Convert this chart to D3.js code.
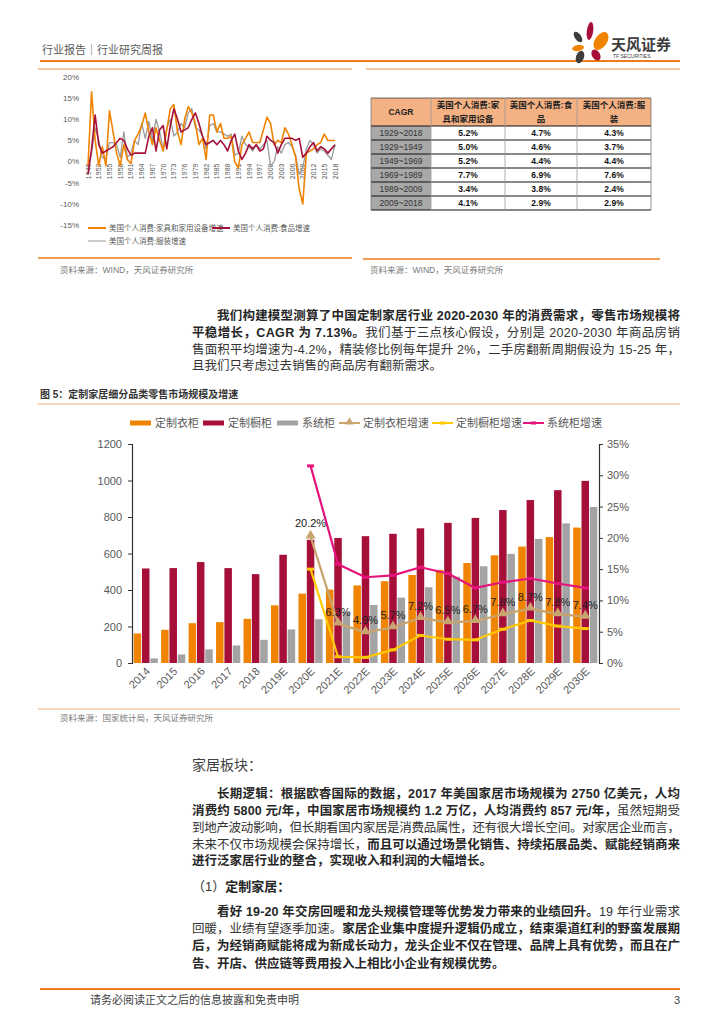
<!DOCTYPE html>
<html><head><meta charset="utf-8">
<script src="https://cdn.jsdelivr.net/npm/d3@7"></script>
<style>body{margin:0;background:#fff}svg{display:block}</style>
</head><body><svg id="page" width="724" height="1024"></svg>
<script>
// ---------- DATA ----------
const usYears = d3.range(1949, 2019);
const usFurniture = [-1,16.5,5,-1,3.5,-1,12,7,2,-1, 4,0.5,-0.5,5,6.5,8.5,11.5,7,4,8, 5,2.5,7.5,12.5,13.5,7,4,10,13,11.5, 9,4,5.5,0.5,11,11,7,9,5.5,5.5, 6,0,-1.5,4,5.5,7,4.5,4.5,4.5,7.5, 10.5,9,4,5,4.5,8,6.5,4,1,-6.5, -10,2,2.5,3,4,4.5,6.5,5,5,5];
const usFood = [-3,3,11,4,2,2.5,3,3.5,4.5,5.5, 5,3,1.5,2,2,2,2,6,8,2.5, 7.5,8.5,3,8.5,12.5,10,7,7.5,8,10, 11.5,9,6,4,4.5,5,4,5,4,2.5, 5,6.5,2.5,0.5,2,4,3,4,2.5,3, 6,5,4.5,2,4,5.5,5.5,5.5,5,5.5, 1,2,3.5,4.5,2.5,3.5,3,2,3,4];
const usClothing = [-2,2,8,5,1,0.5,4.5,4.5,4,1, 7,1,2,5,4,9,5.5,9.5,5,10, 7,3,8,10,6,7,9,8,11.5,12.5, 8,7.5,6,3,8.5,9,7,7,6.5,6, 6.5,1.5,2,6,4,3.5,2.5,4,3,4, 5,-1,0,3.5,2,4,4.5,3.5,1.5,-3, -1.5,3,5,4,2,3,2.5,1.5,0.5,4];
const usYTicks = [-15,-10,-5,0,5,10,15,20];
const usXTicks = d3.range(1949, 2019, 3);
const usSeriesNames = ["美国个人消费:家具和家用设备增速","美国个人消费:食品增速","美国个人消费:服装增速"];

const tblHeader = ["CAGR", ["美国个人消费:家","具和家用设备"], ["美国个人消费:食","品"], ["美国个人消费:服","装"]];
const tblPeriods = ["1929~2018","1929~1949","1949~1969","1969~1989","1989~2009","2009~2018"];
const tblFurniture = ["5.2%","5.0%","5.2%","7.7%","3.4%","4.1%"];
const tblFood = ["4.7%","4.6%","4.4%","6.9%","3.8%","2.9%"];
const tblClothing = ["4.3%","3.7%","4.4%","7.6%","2.4%","2.9%"];

const categories = ["2014","2015","2016","2017","2018","2019E","2020E","2021E","2022E","2023E","2024E","2025E","2026E","2027E","2028E","2029E","2030E"];
const wardrobe = [162,182,218,224,242,316,380,402,425,448,482,510,548,590,638,690,742];
const cabinet = [518,520,553,520,487,593,675,685,695,708,738,768,795,838,893,947,998];
const systemCab = [25,47,75,96,127,184,240,278,318,358,415,473,530,598,680,765,855];
const wardrobeGrowth = [null,null,null,null,null,null,20.2,6.3,4.9,5.7,7.2,6.5,6.7,7.8,8.7,7.8,7.4];
const cabinetGrowth = [null,null,null,null,null,null,15.0,1.0,0.9,2.1,4.4,3.8,3.7,5.4,6.8,5.9,5.5];
const systemGrowth = [null,null,null,null,null,null,31.5,15.8,13.7,14.0,15.3,14.3,12.0,12.9,13.5,12.7,12.0];
const leftTicks = [0,200,400,600,800,1000,1200];
const rightTicks = [0,5,10,15,20,25,30,35];
const legendNames = ["定制衣柜","定制橱柜","系统柜","定制衣柜增速","定制橱柜增速","系统柜增速"];

// ---------- STYLE ----------
const F = "'Liberation Sans','Noto Sans CJK SC',sans-serif";
const C = {orange:"#f08300", crimson:"#a50f38", grey:"#a3a3a3", tan:"#c8a46e", yellow:"#ffc800", magenta:"#e5147c",
  line:"#ee7d1a", light:"#f8c9a3", text:"#404040", axis:"#595959"};

const svg = d3.select("#page").style("font-family", F);

function txt(g, x, y, s, o = {}) {
  const t = g.append("text").attr("x", x).attr("y", y).text(s)
    .attr("font-size", o.size || 12).attr("fill", o.fill || C.text)
    .attr("text-anchor", o.anchor || "start");
  if (o.bold) t.attr("font-weight", "bold");
  if (o.dy) t.attr("dy", o.dy);
  return t;
}

// ---------- HEADER ----------
txt(svg, 42, 54, "行业报告｜行业研究周报", {size: 11, fill: "#5a5a5a"});
svg.append("line").attr("x1",40).attr("x2",680).attr("y1",61).attr("y2",61).attr("stroke",C.line).attr("stroke-width",2);
svg.append("line").attr("x1",38).attr("x2",352).attr("y1",69).attr("y2",69).attr("stroke",C.light).attr("stroke-width",2);
svg.append("line").attr("x1",366).attr("x2",680).attr("y1",69).attr("y2",69).attr("stroke",C.light).attr("stroke-width",2);
const petals = [
  {cx:590,cy:31,rx:3.2,ry:9,r:8,c:C.crimson},
  {cx:578,cy:37,rx:3.2,ry:6,r:-35,c:"#3d3d3d"},
  {cx:601,cy:41,rx:6,ry:10,r:35,c:C.orange},
  {cx:578,cy:48,rx:6,ry:3,r:-10,c:C.orange},
  {cx:580,cy:57,rx:4,ry:6.5,r:20,c:"#3d3d3d"},
  {cx:596,cy:55,rx:4,ry:6,r:-30,c:C.crimson}
];
svg.append("g").selectAll("ellipse").data(petals).join("ellipse")
  .attr("cx",d=>d.cx).attr("cy",d=>d.cy).attr("rx",d=>d.rx).attr("ry",d=>d.ry)
  .attr("transform",d=>`rotate(${d.r},${d.cx},${d.cy})`).attr("fill",d=>d.c);
txt(svg, 611, 50, "天风证券", {size: 15, bold: true, fill: "#3d3d3d"});
txt(svg, 613, 58, "TF SECURITIES", {size: 5, fill: "#3d3d3d"});

// ---------- TOP-LEFT LINE CHART ----------
const g1 = svg.append("g");
const xs = d3.scaleLinear([1949, 2018], [88, 335]);
const ys = d3.scaleLinear([-15, 20], [225, 77]);
g1.selectAll(".yt").data(usYTicks).join("text").attr("x",79).attr("y",d=>ys(d)).attr("dy","0.35em")
  .attr("text-anchor","end").attr("font-size",8).attr("fill",C.axis).text(d=>d+"%");
g1.selectAll(".xt").data(usXTicks).join("text")
  .attr("transform",d=>`translate(${xs(d)+2.5},${ys(0)+2}) rotate(-90)`)
  .attr("text-anchor","end").attr("font-size",7).attr("fill",C.axis).text(d=>d);
const ln1 = d3.line().x((d,i)=>xs(usYears[i])).y(d=>ys(d));
[[usClothing,"#9a9a9a",1.3],[usFurniture,C.orange,1.6],[usFood,C.crimson,1.6]].forEach(([arr,c,w])=>{
  g1.append("path").attr("d",ln1(arr)).attr("fill","none").attr("stroke",c).attr("stroke-width",w).attr("stroke-linejoin","round");
});
[[88,228,C.orange,2,usSeriesNames[0]],[212,228,C.crimson,2,usSeriesNames[1]],[88,241,"#9a9a9a",1,usSeriesNames[2]]].forEach(([x,y,c,w,n])=>{
  g1.append("line").attr("x1",x).attr("x2",x+18).attr("y1",y).attr("y2",y).attr("stroke",c).attr("stroke-width",w);
  txt(g1, x+21, y, n, {size: 7.5, fill: C.axis, dy: "0.35em"});
});
svg.append("line").attr("x1",38).attr("x2",352).attr("y1",258).attr("y2",258).attr("stroke",C.line).attr("stroke-width",1.5);
txt(svg, 60, 273, "资料来源：WIND，天风证券研究所", {size: 8.5, fill: "#7a7a7a"});

// ---------- TOP-RIGHT TABLE ----------
const g2 = svg.append("g");
const colX = [371, 431, 505, 577, 651];
const rowY = [98, 126, 140, 154, 168, 182, 196, 210];
g2.append("rect").attr("x",colX[0]).attr("y",rowY[0]).attr("width",colX[4]-colX[0]).attr("height",rowY[1]-rowY[0]).attr("fill","#f4b183");
g2.selectAll(".pc").data(tblPeriods).join("rect").attr("x",colX[0]).attr("y",(d,i)=>rowY[i+1])
  .attr("width",colX[1]-colX[0]).attr("height",14).attr("fill","#a8a8a8");
tblHeader.forEach((h,j)=>{
  const cx = (colX[j]+colX[j+1])/2;
  if (typeof h === "string") txt(g2, cx, 112, h, {size: 8.5, bold: true, anchor: "middle", fill:"#222", dy:"0.35em"});
  else { txt(g2, cx, 105, h[0], {size: 8.5, bold: true, anchor: "middle", fill:"#222", dy:"0.35em"});
         txt(g2, cx, 119, h[1], {size: 8.5, bold: true, anchor: "middle", fill:"#222", dy:"0.35em"}); }
});
tblPeriods.forEach((p,i)=>{
  const cy = rowY[i+1]+7;
  txt(g2, (colX[0]+colX[1])/2, cy, p, {size: 8.5, anchor: "middle", fill:"#333", dy:"0.35em"});
  [tblFurniture[i], tblFood[i], tblClothing[i]].forEach((v,j)=>{
    txt(g2, (colX[j+1]+colX[j+2])/2, cy, v, {size: 8.5, bold: true, anchor: "middle", fill:"#111", dy:"0.35em"});
  });
});
g2.selectAll(".hl").data(rowY).join("line").attr("x1",colX[0]).attr("x2",colX[4]).attr("y1",d=>d).attr("y2",d=>d)
  .attr("stroke","#111").attr("stroke-width",(d,i)=>i===0?0.6:1.2);
g2.selectAll(".vl").data(colX).join("line").attr("x1",d=>d).attr("x2",d=>d).attr("y1",rowY[0]).attr("y2",rowY[7])
  .attr("stroke",(d,i)=>(i===0||i===4)?"#777":"#999").attr("stroke-width",0.8);
svg.append("line").attr("x1",363).attr("x2",660).attr("y1",259).attr("y2",259).attr("stroke",C.line).attr("stroke-width",1.5);
txt(svg, 370, 273, "资料来源：WIND，天风证券研究所", {size: 8.5, fill: "#7a7a7a"});

// ---------- PARAGRAPHS ----------
function para(lines) {
  lines.forEach(l => {
    const t = svg.append("text").attr("x", l.x).attr("y", l.y).attr("font-size", l.size || 12.5).attr("fill", "#333");
    if (l.w) t.attr("textLength", l.w).attr("lengthAdjust", "spacing");
    l.segs.forEach(([s, b]) => { const ts = t.append("tspan").text(s); if (b) ts.attr("font-weight","bold").attr("fill","#262626"); });
  });
}
para([
  {x:217, y:320, w:463, segs:[["我们构建模型测算了中国定制家居行业 2020-2030 年的消费需求，零售市场规模将", true]]},
  {x:192, y:336.5, w:488, segs:[["平稳增长，CAGR 为 7.13%。", true],["我们基于三点核心假设，分别是 2020-2030 年商品房销", false]]},
  {x:192, y:353.5, w:488, segs:[["售面积平均增速为-4.2%，精装修比例每年提升 2%，二手房翻新周期假设为 15-25 年，", false]]},
  {x:192, y:370, segs:[["且我们只考虑过去销售的商品房有翻新需求。", false]]}
]);

// ---------- MAIN CHART ----------
txt(svg, 40, 398, "图 5：定制家居细分品类零售市场规模及增速", {size: 10, bold: true, fill: "#333"});
svg.append("line").attr("x1",38).attr("x2",680).attr("y1",404).attr("y2",404).attr("stroke",C.light).attr("stroke-width",1.5);

const lg = svg.append("g");
const legX = [130, 203, 277, 339, 432, 523];
[C.orange, C.crimson, C.grey].forEach((c,i)=>{
  lg.append("rect").attr("x",legX[i]).attr("y",420.5).attr("width",21).attr("height",5).attr("fill",c);
  txt(lg, legX[i]+25, 423, legendNames[i], {size: 11, fill: C.axis, dy: "0.35em"});
});
[C.tan, C.yellow, C.magenta].forEach((c,k)=>{
  const i = k+3, x = legX[i];
  lg.append("line").attr("x1",x).attr("x2",x+21).attr("y1",423).attr("y2",423).attr("stroke",c).attr("stroke-width",2);
  if (k===0) lg.append("path").attr("d",d3.symbol(d3.symbolTriangle, 30)()).attr("transform",`translate(${x+10.5},422)`).attr("fill",c);
  else lg.append("rect").attr("x",x+8).attr("y",421.5).attr("width",5).attr("height",3).attr("fill",c);
  txt(lg, x+24, 423, legendNames[i], {size: 11, fill: C.axis, dy: "0.35em"});
});

const g3 = svg.append("g");
const x0 = d3.scaleBand().domain(categories).range([132, 599]).paddingInner(0.12).paddingOuter(0.06);
const x1 = d3.scaleBand().domain([0,1,2]).range([0, x0.bandwidth()]).paddingInner(0.1);
const yL = d3.scaleLinear([0, 1200], [663, 444]);
const yR = d3.scaleLinear([0, 35], [663, 444]);

[wardrobe, cabinet, systemCab].forEach((arr, k) => {
  const col = [C.orange, C.crimson, C.grey][k];
  g3.append("g").selectAll("rect").data(arr).join("rect")
    .attr("x",(d,i)=>x0(categories[i])+x1(k)).attr("width",x1.bandwidth())
    .attr("y",d=>yL(d)).attr("height",d=>yL(0)-yL(d)).attr("fill",col);
});

const axL = g3.append("g").attr("transform","translate(132,0)")
  .call(d3.axisLeft(yL).tickValues(leftTicks).tickSize(4).tickPadding(6).tickFormat(d3.format("d")));
const axR = g3.append("g").attr("transform","translate(599,0)")
  .call(d3.axisRight(yR).tickValues(rightTicks).tickSize(4).tickPadding(4).tickFormat(d=>d+"%"));
[axL, axR].forEach(a=>{
  a.select(".domain").attr("stroke","#333").attr("stroke-width",1.2);
  a.selectAll(".tick line").attr("stroke","#333");
  a.selectAll("text").attr("font-size",11).attr("fill",C.axis).attr("font-family",F);
});
const axB = g3.append("g").attr("transform","translate(0,663)")
  .call(d3.axisBottom(x0).tickSize(0).tickPadding(0));
axB.select(".domain").remove();
axB.selectAll("text").attr("font-size",11).attr("fill",C.axis).attr("font-family",F)
  .attr("text-anchor","end").attr("dy",0).attr("transform","translate(5,9) rotate(-45)");

const cx = c => x0(c) + x0.bandwidth()/2;
const gl = d3.line().defined(d=>d.v!==null).x(d=>cx(d.c)).y(d=>yR(d.v));
const seriesL = [[systemGrowth, C.magenta], [cabinetGrowth, C.yellow], [wardrobeGrowth, C.tan]];
seriesL.forEach(([arr,c],k)=>{
  const pts = arr.map((v,i)=>({c:categories[i], v}));
  g3.append("path").attr("d", gl(pts)).attr("fill","none").attr("stroke",c).attr("stroke-width",2.2).attr("stroke-linejoin","round");
  const valid = pts.filter(p=>p.v!==null);
  if (c === C.tan) {
    g3.append("g").selectAll("path").data(valid).join("path")
      .attr("d", d3.symbol(d3.symbolTriangle, 45)())
      .attr("transform", d=>`translate(${cx(d.c)},${yR(d.v)-1})`).attr("fill", c);
  } else {
    g3.append("g").selectAll("rect").data(valid).join("rect")
      .attr("x", d=>cx(d.c)-3.5).attr("y", d=>yR(d.v)-1.5).attr("width",7).attr("height",3).attr("fill", c);
  }
});
g3.append("g").selectAll("text").data(wardrobeGrowth.map((v,i)=>({c:categories[i], v})).filter(d=>d.v!==null))
  .join("text").attr("x", d=>cx(d.c)).attr("y", d=>yR(d.v)-(d.v>15?10:8))
  .attr("text-anchor","middle").attr("font-size",11).attr("fill","#222").text(d=>d.v.toFixed(1)+"%");

svg.append("line").attr("x1",38).attr("x2",680).attr("y1",709).attr("y2",709).attr("stroke",C.light).attr("stroke-width",1.5);
txt(svg, 60, 721, "资料来源：国家统计局，天风证券研究所", {size: 8.5, fill: "#7a7a7a"});

// ---------- LOWER TEXT ----------
txt(svg, 192, 770, "家居板块：", {size: 14, fill: "#404040"});
para([
  {x:217, y:798, w:463, segs:[["长期逻辑：根据欧睿国际的数据，2017 年美国家居市场规模为 2750 亿美元，人均", true]]},
  {x:192, y:814.5, w:488, segs:[["消费约 5800 元/年，中国家居市场规模约 1.2 万亿，人均消费约 857 元/年，", true],["虽然短期受", false]]},
  {x:192, y:831.5, w:488, segs:[["到地产波动影响，但长期看国内家居是消费品属性，还有很大增长空间。对家居企业而言，", false]]},
  {x:192, y:848.5, w:488, segs:[["未来不仅市场规模会保持增长，", false],["而且可以通过场景化销售、持续拓展品类、赋能经销商来", true]]},
  {x:192, y:865, segs:[["进行泛家居行业的整合，实现收入和利润的大幅增长。", true]]},
  {x:192, y:891, size:13, segs:[["（1）", false],["定制家居：", true]]},
  {x:217, y:916, w:463, segs:[["看好 19-20 年交房回暖和龙头规模管理等优势发力带来的业绩回升。", true],["19 年行业需求", false]]},
  {x:192, y:933, w:488, segs:[["回暖，业绩有望逐季加速。", false],["家居企业集中度提升逻辑仍成立，结束渠道红利的野蛮发展期", true]]},
  {x:192, y:950, w:488, segs:[["后，为经销商赋能将成为新成长动力，龙头企业不仅在管理、品牌上具有优势，而且在广", true]]},
  {x:192, y:967.5, segs:[["告、开店、供应链等费用投入上相比小企业有规模优势。", true]]}
]);

// ---------- FOOTER ----------
svg.append("line").attr("x1",40).attr("x2",680).attr("y1",989).attr("y2",989).attr("stroke",C.line).attr("stroke-width",2);
txt(svg, 90, 1004, "请务必阅读正文之后的信息披露和免责申明", {size: 11, fill: "#404040"});
txt(svg, 680, 1004, "3", {size: 11, fill: "#404040", anchor: "end"});
</script></body></html>
